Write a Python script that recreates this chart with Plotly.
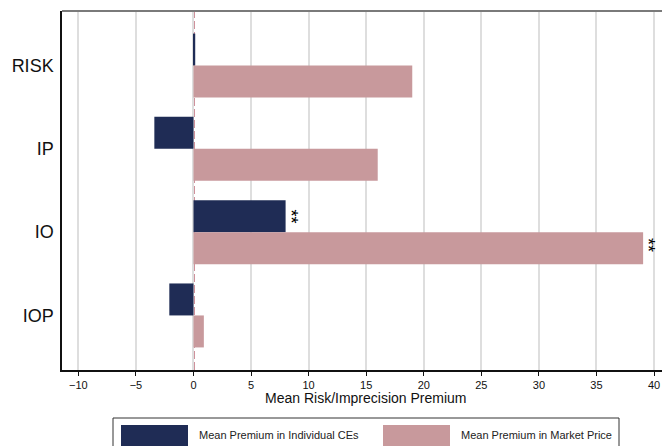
import plotly.graph_objects as go

categories = ["RISK", "IP", "IO", "IOP"]
premium_ce = [0.15, -3.4, 8.0, -2.1]
premium_market = [19.0, 16.0, 39.05, 0.9]
stars_ce = ["", "", "**", ""]
stars_market = ["", "", "**", ""]
series_names = ["Mean Premium in Individual CEs", "Mean Premium in Market Price"]
tick_values = [-10, -5, 0, 5, 10, 15, 20, 25, 30, 35, 40]
tick_labels = ["\u221210", "\u22125", "0", "5", "10", "15", "20", "25", "30", "35", "40"]
x_title = "Mean Risk/Imprecision Premium"

BLUE = "#1f2c55"
PINK = "#c8999c"
FONT = "Liberation Sans, Arial, sans-serif"

W, H = 662, 446
ML, MR, MT, MB = 62, 0, 11, 76
PW, PH = W - ML - MR, H - MT - MB


def px_x(px):
    return (px - ML) / PW


def px_y(py):
    return (H - MB - py) / PH


fig = go.Figure()
fig.add_trace(go.Bar(y=categories, x=premium_ce, orientation="h", name=series_names[0],
                     marker=dict(color=BLUE, line=dict(width=0)), showlegend=False))
fig.add_trace(go.Bar(y=categories, x=premium_market, orientation="h", name=series_names[1],
                     marker=dict(color=PINK, line=dict(width=0)), showlegend=False))

annotations = []
for cat, v, s in zip(categories, premium_ce, stars_ce):
    if s:
        annotations.append(dict(x=v, y=cat, xref="x", yref="y", text=s, textangle=90,
                                showarrow=False, xanchor="center", yanchor="middle",
                                xshift=5, yshift=16,
                                font=dict(family=FONT, size=18, color="#000")))
for cat, v, s in zip(categories, premium_market, stars_market):
    if s:
        annotations.append(dict(x=v, y=cat, xref="x", yref="y", text=s, textangle=90,
                                showarrow=False, xanchor="center", yanchor="middle",
                                xshift=5, yshift=-13,
                                font=dict(family=FONT, size=18, color="#000")))

# axis title
annotations.append(dict(x=px_x(366), y=px_y(398), xref="paper", yref="paper", text=x_title,
                        showarrow=False, xanchor="center", yanchor="middle",
                        font=dict(family=FONT, size=14, color="#111")))
# legend texts
annotations.append(dict(x=px_x(197), y=px_y(435), xref="paper", yref="paper", text=series_names[0],
                        showarrow=False, xanchor="left", yanchor="middle",
                        font=dict(family=FONT, size=11, color="#222")))
annotations.append(dict(x=px_x(459), y=px_y(435), xref="paper", yref="paper", text=series_names[1],
                        showarrow=False, xanchor="left", yanchor="middle",
                        font=dict(family=FONT, size=11, color="#222")))

shapes = [
    # zero reference line
    dict(type="line", xref="x", yref="paper", x0=0, x1=0, y0=0, y1=1,
         line=dict(color="#9e1f33", width=2, dash="8px,3px"), layer="between"),
    # top frame line
    dict(type="line", xref="paper", yref="paper", x0=0, x1=1, y0=1, y1=1,
         line=dict(color="#7a7a7a", width=2), layer="above"),
    # legend box
    dict(type="rect", xref="paper", yref="paper", x0=px_x(113), x1=px_x(619),
         y0=px_y(470), y1=px_y(418), line=dict(color="#333", width=1), fillcolor="rgba(0,0,0,0)"),
    dict(type="rect", xref="paper", yref="paper", x0=px_x(121), x1=px_x(188),
         y0=px_y(448), y1=px_y(425), line=dict(width=0), fillcolor=BLUE),
    dict(type="rect", xref="paper", yref="paper", x0=px_x(383), x1=px_x(450),
         y0=px_y(448), y1=px_y(425), line=dict(width=0), fillcolor=PINK),
]

fig.update_layout(
    width=W, height=H,
    margin=dict(l=ML, r=MR, t=MT, b=MB, pad=0, autoexpand=False),
    paper_bgcolor="white", plot_bgcolor="white",
    barmode="group", bargap=0.232, bargroupgap=0,
    font=dict(family=FONT, color="#111"),
    showlegend=False,
    annotations=annotations,
    shapes=shapes,
    xaxis=dict(range=[-11.42, 40.69], tickvals=tick_values, ticktext=tick_labels,
               showgrid=True, gridcolor="#dedede", gridwidth=1.5, zeroline=False,
               showline=True, linecolor="#111", linewidth=1.5,
               ticks="outside", ticklen=4, tickcolor="#111", tickwidth=1,
               tickfont=dict(family=FONT, size=11, color="#111"), automargin=False),
    yaxis=dict(categoryorder="array", categoryarray=categories, range=[3.655, -0.655],
               showgrid=False, zeroline=False,
               showline=True, linecolor="#111", linewidth=1.5,
               ticks="", ticklabelstandoff=3, automargin=False,
               tickfont=dict(family=FONT, size=18, color="#111")),
)

fig.write_html("out.html", config={"displayModeBar": False},
               post_script="document.body.style.margin='0';document.body.style.overflow='hidden';")
